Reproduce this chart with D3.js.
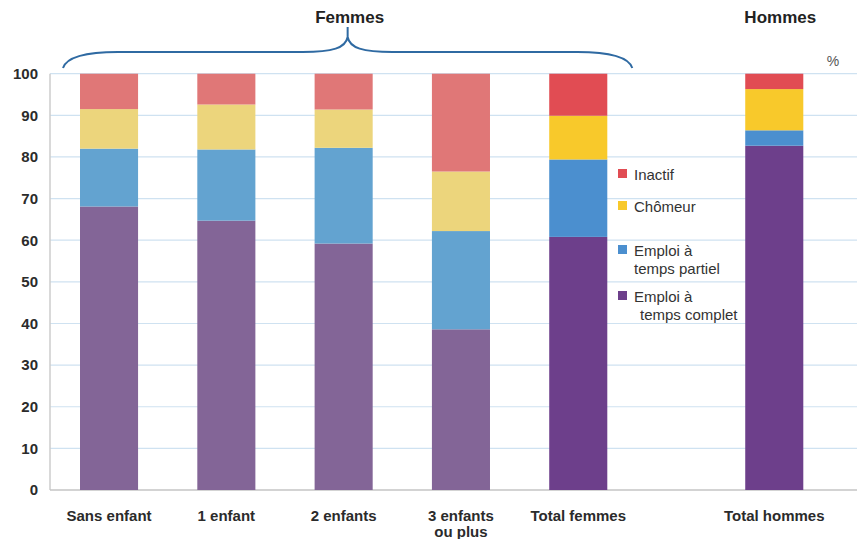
<!DOCTYPE html>
<html>
<head>
<meta charset="utf-8">
<script src="https://cdn.jsdelivr.net/npm/d3@7"></script>
<style>
  body { margin: 0; background: #fff; }
  svg { display: block; font-family: "Liberation Sans", Arial, sans-serif; }
</style>
</head>
<body>
<svg width="857" height="539"></svg>
<script>
// categories and series (in %)
var categories = ["Sans enfant", "1 enfant", "2 enfants", "3 enfants|ou plus", "Total femmes", "Total hommes"];
var tempsComplet = [68.1, 64.7, 59.2, 38.6, 60.8, 82.7];
var tempsPartiel = [13.9, 17.1, 23.0, 23.6, 18.6, 3.7];
var chomeur      = [9.5, 10.8, 9.2, 14.3, 10.5, 9.9];
var inactif      = [8.5, 7.4, 8.6, 23.5, 10.1, 3.7];
var seriesNames = ["Emploi à temps complet", "Emploi à temps partiel", "Chômeur", "Inactif"];
var yTicks = [0, 10, 20, 30, 40, 50, 60, 70, 80, 90, 100];

// light colours for the children bars, strong ones for totals
var lightColors = ["#836597", "#63a3d0", "#ecd57c", "#e07777"];
var strongColors = ["#6d3f8b", "#4b8fcf", "#f8c92b", "#e14c53"];

var svg = d3.select("svg");
var series = [tempsComplet, tempsPartiel, chomeur, inactif];

var y = d3.scaleLinear().domain([0, 100]).range([490, 73.7]);
var x = d3.scaleBand().domain(categories).range([80, 724.6]).paddingInner(0.505).paddingOuter(0);
var groupGap = 78.7;
var xPos = function(c){
    return x(c) + (c == "Total hommes" ? groupGap : 0);
}
var bw = x.bandwidth();

// gridlines
svg.append("g").selectAll("line").data(yTicks.filter(function(t){return t > 0})).enter()
    .append("line")
    .attr("x1", 50).attr("x2", 857)
    .attr("y1", function(t){return y(t)}).attr("y2", function(t){return y(t)})
    .attr("stroke", "#cfe2f1").attr("stroke-width", 1.2);

// axes lines
svg.append("line").attr("x1", 50).attr("x2", 50).attr("y1", y(100)).attr("y2", y(0))
    .attr("stroke", "#cccccc").attr("stroke-width", 1.5);
svg.append("line").attr("x1", 50).attr("x2", 857).attr("y1", y(0)).attr("y2", y(0))
    .attr("stroke", "#c4c4c4").attr("stroke-width", 1.5);

// y tick labels
var yAxis = d3.axisLeft(y).tickValues(yTicks).tickSize(0).tickPadding(12);
var ya = svg.append("g").attr("transform", "translate(50,0)").call(yAxis);
ya.select(".domain").remove();
ya.selectAll("text")
    .attr("font-size", 15).attr("font-weight", "bold").attr("fill", "#2b2b2b")
    .attr("font-family", "Liberation Sans, Arial, sans-serif");

// stacked bars
categories.forEach(function(c, i){
    var base = 0;
    var isTotal = c.indexOf("Total") == 0;
    series.forEach(function(s, k){
        var v = s[i];
        svg.append("rect")
            .attr("x", xPos(c))
            .attr("width", bw)
            .attr("y", y(base + v))
            .attr("height", y(base) - y(base + v))
            .attr("fill", isTotal ? strongColors[k] : lightColors[k]);
        base += v;
    });
});

// category labels
categories.forEach(function(c){
    var lines = c.split("|");
    var t = svg.append("text")
        .attr("x", xPos(c) + bw / 2)
        .attr("y", 521)
        .attr("text-anchor", "middle")
        .attr("font-size", 15).attr("font-weight", "bold").attr("fill", "#2b2b2b");
    lines.forEach(function(l, j){
        t.append("tspan").attr("x", xPos(c) + bw / 2).attr("dy", j == 0 ? 0 : 16).text(l);
    });
});

// brace over femmes
var bl = xPos(categories[0]) - 17;
var br = xPos(categories[4]) + bw + 25;
var bm = (bl + br) / 2;
var by = 52, bEnd = 68, bTip = 27;
var brace = d3.path();
brace.moveTo(bl, bEnd);
brace.bezierCurveTo(bl + 4, by + 4, bl + 25, by, bl + 55, by);
brace.lineTo(bm - 45, by);
brace.bezierCurveTo(bm - 15, by, bm - 2, by - 4, bm, bTip + 10);
brace.lineTo(bm, bTip);
brace.moveTo(bm, bTip + 10);
brace.bezierCurveTo(bm + 2, by - 4, bm + 15, by, bm + 45, by);
brace.lineTo(br - 55, by);
brace.bezierCurveTo(br - 25, by, br - 4, by + 4, br, bEnd);
svg.append("path").attr("d", brace.toString())
    .attr("fill", "none").attr("stroke", "#2f6aa2").attr("stroke-width", 2);

// group titles
svg.append("text").attr("x", bm + 2).attr("y", 23).attr("text-anchor", "middle")
    .attr("font-size", 17).attr("font-weight", "bold").attr("fill", "#222").text("Femmes");
svg.append("text").attr("x", xPos(categories[5]) + bw / 2 + 6).attr("y", 23).attr("text-anchor", "middle")
    .attr("font-size", 17).attr("font-weight", "bold").attr("fill", "#222").text("Hommes");
svg.append("text").attr("x", 833).attr("y", 66).attr("text-anchor", "middle")
    .attr("font-size", 14).attr("fill", "#555").text("%");

// legend (top to bottom: inactif, chomeur, partiel, complet)
var legend = [
    {k: 3, lines: ["Inactif"], y: 175, indent: 0},
    {k: 2, lines: ["Chômeur"], y: 207, indent: 0},
    {k: 1, lines: ["Emploi à", "temps partiel"], y: 251, indent: 0},
    {k: 0, lines: ["Emploi à", "temps complet"], y: 297, indent: 6}
];
legend.forEach(function(d){
    svg.append("rect").attr("x", 618).attr("y", d.y - 6).attr("width", 9).attr("height", 9)
        .attr("fill", strongColors[d.k]);
    var t = svg.append("text").attr("y", d.y + 5)
        .attr("font-size", 15).attr("fill", "#333");
    d.lines.forEach(function(l, j){
        t.append("tspan").attr("x", 634 + (j > 0 ? d.indent : 0)).attr("dy", j == 0 ? 0 : 18).text(l);
    });
});
</script>
</body>
</html>
